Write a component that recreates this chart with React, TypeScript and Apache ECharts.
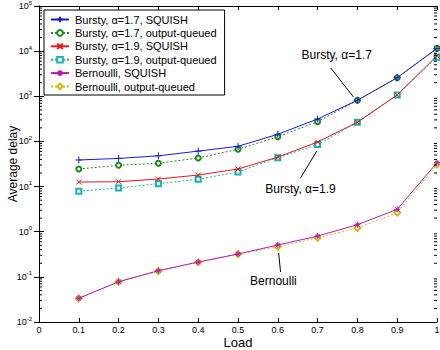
import React, { useEffect, useRef } from "react";
import * as echarts from "echarts";

const loads = [0.1, 0.2, 0.3, 0.4, 0.5, 0.6, 0.7, 0.8, 0.9, 1.0];
const bursty17Squish = [38.8, 42, 48, 61, 78, 144, 314, 815, 2580, 11500];
const bursty17OQ = [24.5, 29.6, 32.8, 43, 67, 127, 274, 815, 2580, 11500];
const bursty19Squish = [12.6, 12.8, 14.7, 18, 24.5, 45, 97, 266, 1070, 7900];
const bursty19OQ = [7.86, 9.3, 11.6, 14.5, 21, 43.6, 85, 266, 1070, 7300];
const bernoulliSquish = [0.0335, 0.078, 0.137, 0.213, 0.321, 0.508, 0.8, 1.43, 3.13, 33.8];
const bernoulliOQ = [0.0335, 0.078, 0.135, 0.21, 0.32, 0.466, 0.73, 1.21, 2.64, 30.5];
const decades = [-2, -1, 0, 1, 2, 3, 4];
const minorMultipliers = [2, 3, 4, 5, 6, 7, 8, 9];

const annotations = [
  { text: "Bursty, α=1.7", at: [0.748, 8220], from: [0.733, 4240], to: [0.79, 966] },
  { text: "Bursty, α=1.9", at: [0.657, 8.83], from: [0.657, 15.5], to: [0.698, 61.4] },
  { text: "Bernoulli", at: [0.589, 0.081], from: [0.607, 0.128], to: [0.602, 0.338] },
];

const FONT = "'Liberation Sans', Arial, Helvetica, sans-serif";

const PLUS = "path://M0,5L10,5M5,0L5,10";
const CROSS = "path://M1,1L9,9M1,9L9,1";
const STAR = "path://M0,5L10,5M5,0L5,10M1.5,1.5L8.5,8.5M1.5,8.5L8.5,1.5";

function pairs(vals: number[]) {
  return loads.map((x, i) => [x, vals[i]]);
}

export default function App() {
  const ref = useRef<HTMLDivElement>(null);
  useEffect(() => {
    if (!ref.current) return;
    const chart = echarts.init(ref.current, undefined, { renderer: "svg" });

    const minorVals: number[][] = [];
    decades.forEach((d) => {
      minorMultipliers.forEach((m) => minorVals.push([0, m * Math.pow(10, d)]));
    });

    const mkSeries = (
      name: string,
      vals: number[],
      color: string,
      symbol: string,
      dotted: boolean,
      size: number,
      z: number
    ) => ({
      name,
      type: "line",
      data: pairs(vals),
      symbol,
      symbolSize: size,
      showSymbol: true,
      lineStyle: { color, width: 1, type: dotted ? [2, 2] : "solid" },
      itemStyle: { color, borderColor: color, borderWidth: 1 },
      emphasis: { disabled: true },
      z,
    });

    const names = [
      "Bursty, α=1.7, SQUISH",
      "Bursty, α=1.7, output-queued",
      "Bursty, α=1.9, SQUISH",
      "Bursty, α=1.9, output-queued",
      "Bernoulli, SQUISH",
      "Bernoulli, output-queued",
    ];

    const series: any[] = [
      mkSeries(names[0], bursty17Squish, "#1c1ccc", PLUS, false, 7, 4),
      mkSeries(names[1], bursty17OQ, "#1a8a1a", "emptyCircle", true, 5, 3),
      mkSeries(names[2], bursty19Squish, "#e01818", CROSS, false, 5, 4),
      mkSeries(names[3], bursty19OQ, "#18b4b4", "emptyRect", true, 5, 3),
      mkSeries(names[4], bernoulliSquish, "#b818b8", STAR, false, 6, 4),
      mkSeries(names[5], bernoulliOQ, "#c8c010", "emptyDiamond", true, 6, 3),
    ];

    series.push({
      name: "annot",
      type: "line",
      data: [],
      silent: true,
      markPoint: {
        symbol: "circle",
        symbolSize: 0,
        silent: true,
        label: {
          show: true,
          position: "inside",
          color: "#000",
          fontFamily: FONT,
          fontSize: 12,
          formatter: (p: any) => p.name,
        },
        data: annotations.map((a) => ({ name: a.text, coord: a.at })),
      },
      markLine: {
        silent: true,
        symbol: ["none", "arrow"],
        symbolSize: [0, 7],
        label: { show: false },
        lineStyle: { color: "#000", width: 1, type: "solid" },
        data: annotations.map((a) => [{ coord: a.from }, { coord: a.to }]),
      },
    });

    series.push({
      name: "minorTicks",
      type: "custom",
      silent: true,
      data: minorVals,
      renderItem: (params: any, api: any) => {
        const v = api.value(1);
        const l = api.coord([0, v]);
        const r = api.coord([1, v]);
        return {
          type: "group",
          children: [
            { type: "line", shape: { x1: l[0], y1: l[1], x2: l[0] + 3, y2: l[1] }, style: { stroke: "#000", lineWidth: 1 } },
            { type: "line", shape: { x1: r[0], y1: r[1], x2: r[0] - 3, y2: r[1] }, style: { stroke: "#000", lineWidth: 1 } },
          ],
        };
      },
      z: 5,
    });

    const yLabel = (v: number) => {
      const e = Math.round(Math.log10(v));
      return `{b|10}{s|${e}}`;
    };

    chart.setOption({
      animation: false,
      backgroundColor: "#fff",
      textStyle: { fontFamily: FONT },
      grid: { left: 39, right: 3, top: 6, bottom: 28, show: false, containLabel: false, outerBoundsMode: "none" },
      legend: {
        data: names,
        orient: "vertical",
        left: 44,
        top: 10,
        padding: [4, 8, 3, 6],
        itemWidth: 18,
        itemHeight: 7,
        itemGap: 2.4,
        backgroundColor: "#fff",
        borderColor: "#000",
        borderWidth: 1,
        borderRadius: 0,
        textStyle: { fontSize: 11, color: "#000", fontFamily: FONT, padding: [0, 0, 0, 1] },
        selectedMode: false,
      },
      xAxis: [
        {
          type: "value",
          min: 0,
          max: 1,
          interval: 0.1,
          name: "Load",
          nameLocation: "middle",
          nameGap: 14,
          nameMoveOverlap: false,
          nameTextStyle: { fontSize: 13, color: "#000", fontFamily: FONT },
          axisLine: { show: true, lineStyle: { color: "#000", width: 1 } },
          axisTick: { show: true, inside: true, length: 4, lineStyle: { color: "#000" } },
          axisLabel: {
            fontSize: 9,
            color: "#000",
            margin: 3,
            formatter: (v: number) => (v === 0 ? "0" : v === 1 ? "1" : String(Math.round(v * 10) / 10)),
          },
          splitLine: { show: false },
        },
        {
          type: "value",
          position: "top",
          min: 0,
          max: 1,
          interval: 0.1,
          axisLine: { show: true, lineStyle: { color: "#000", width: 1 } },
          axisTick: { show: true, inside: true, length: 4, lineStyle: { color: "#000" } },
          axisLabel: { show: false },
          splitLine: { show: false },
        },
      ],
      yAxis: [
        {
          type: "log",
          logBase: 10,
          min: 0.01,
          max: 100000,
          name: "Average delay",
          nameLocation: "middle",
          nameGap: 20,
          nameMoveOverlap: false,
          nameTextStyle: { fontSize: 12, color: "#000", fontFamily: FONT },
          axisLine: { show: true, lineStyle: { color: "#000", width: 1 } },
          axisTick: { show: true, inside: true, length: 5, lineStyle: { color: "#000" } },
          axisLabel: {
            margin: 7,
            color: "#000",
            formatter: yLabel,
            rich: {
              b: { fontSize: 9, color: "#000", fontFamily: FONT },
              s: { fontSize: 6, color: "#000", fontFamily: FONT, padding: [0, 0, 7, 0] },
            },
          },
          splitLine: { show: false },
        },
        {
          type: "log",
          logBase: 10,
          min: 0.01,
          max: 100000,
          position: "right",
          axisLine: { show: true, lineStyle: { color: "#000", width: 1 } },
          axisTick: { show: true, inside: true, length: 5, lineStyle: { color: "#000" } },
          axisLabel: { show: false },
          splitLine: { show: false },
        },
      ],
      series,
    });
    return () => chart.dispose();
  }, []);
  return (
    <div
      ref={ref}
      style={{ position: "fixed", left: 0, top: 0, width: 440, height: 350, background: "#fff" }}
    />
  );
}
